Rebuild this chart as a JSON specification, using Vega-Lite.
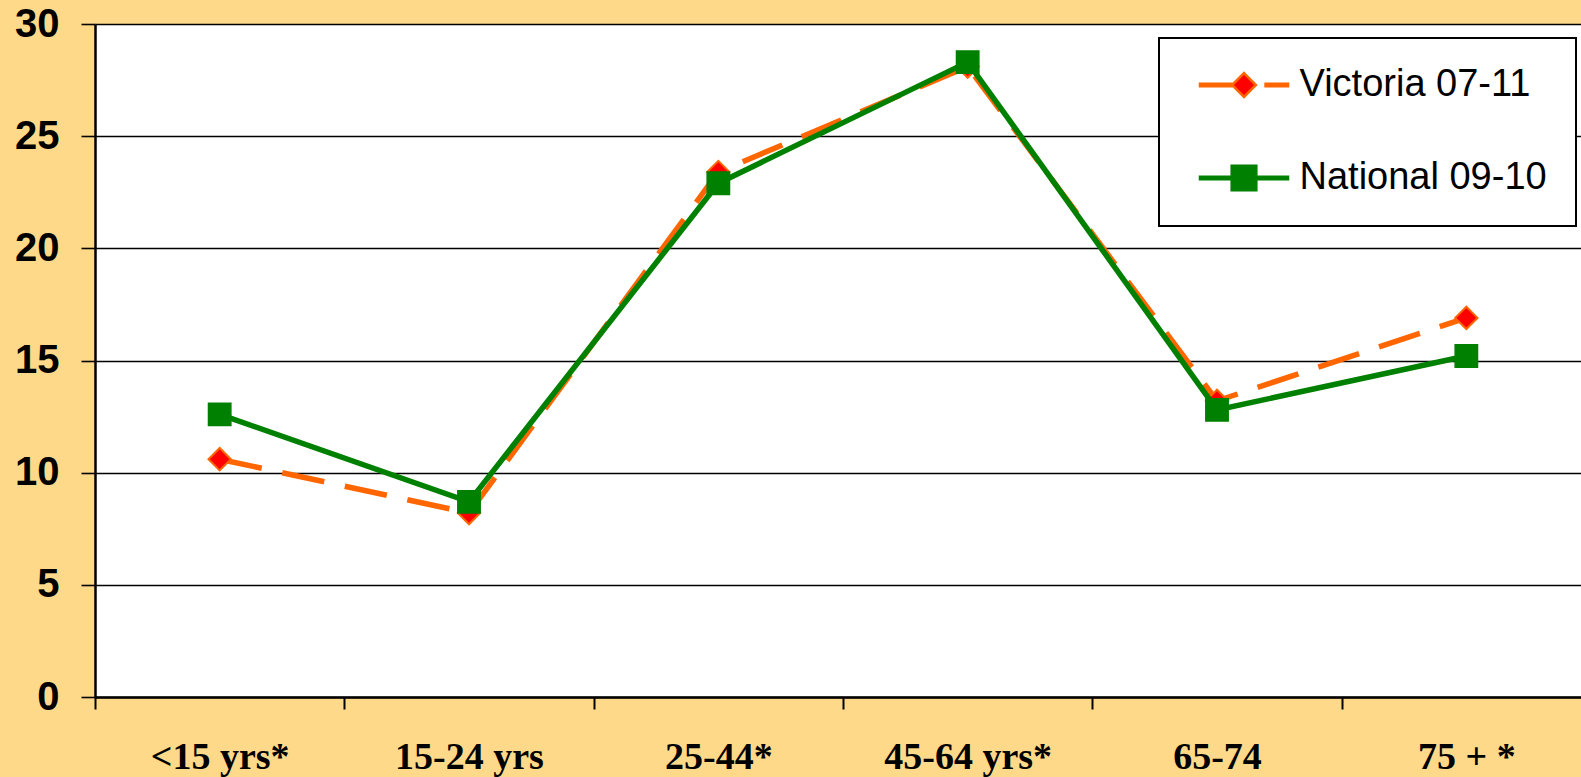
{
  "$schema": "https://vega.github.io/schema/vega-lite/v6.json",
  "width": 1496,
  "height": 673,
  "autosize": {"type": "none"},
  "padding": {"left": 95, "top": 24, "right": 0, "bottom": 80},
  "background": "#FFD98A",
  "view": {"fill": "white", "stroke": null},
  "data": {
    "values": [
      {"age": "<15 yrs*", "series": "Victoria 07-11", "value": 10.6},
      {"age": "15-24 yrs", "series": "Victoria 07-11", "value": 8.2},
      {"age": "25-44*", "series": "Victoria 07-11", "value": 23.4},
      {"age": "45-64 yrs*", "series": "Victoria 07-11", "value": 28.1},
      {"age": "65-74", "series": "Victoria 07-11", "value": 13.2},
      {"age": "75 + *", "series": "Victoria 07-11", "value": 16.9},
      {"age": "<15 yrs*", "series": "National 09-10", "value": 12.6},
      {"age": "15-24 yrs", "series": "National 09-10", "value": 8.7},
      {"age": "25-44*", "series": "National 09-10", "value": 22.9},
      {"age": "45-64 yrs*", "series": "National 09-10", "value": 28.3},
      {"age": "65-74", "series": "National 09-10", "value": 12.8},
      {"age": "75 + *", "series": "National 09-10", "value": 15.2}
    ]
  },
  "encoding": {
    "x": {
      "field": "age",
      "type": "nominal",
      "sort": null,
      "scale": {"type": "band", "paddingInner": 0, "paddingOuter": 0},
      "axis": {
        "title": null,
        "labelAngle": 0,
        "tickBand": "extent",
        "tickSize": 12,
        "tickWidth": 2,
        "tickColor": "black",
        "domainColor": "black",
        "domainWidth": 2.5,
        "grid": false,
        "labelFont": "Liberation Serif",
        "labelFontWeight": "bold",
        "labelFontSize": 38,
        "labelColor": "black",
        "labelBaseline": "alphabetic",
        "labelPadding": 59
      }
    },
    "y": {
      "field": "value",
      "type": "quantitative",
      "scale": {"domain": [0, 30], "nice": false},
      "axis": {
        "title": null,
        "values": [0, 5, 10, 15, 20, 25, 30],
        "grid": true,
        "gridColor": "black",
        "gridWidth": 1.6,
        "gridOpacity": 1,
        "tickSize": 14,
        "tickWidth": 1.6,
        "tickColor": "black",
        "domainColor": "black",
        "domainWidth": 2.5,
        "labelFont": "Liberation Sans",
        "labelFontWeight": "bold",
        "labelFontSize": 40,
        "labelColor": "black",
        "labelPadding": 22
      }
    }
  },
  "layer": [
    {
      "mark": {"type": "point", "opacity": 0, "filled": true},
      "encoding": {
        "shape": {
          "field": "series",
          "type": "nominal",
          "scale": {
            "domain": ["Victoria 07-11", "National 09-10"],
            "range": [
              "M-1,-0.03L-0.27,-0.03L-0.27,0.03L-1,0.03Z M0,-0.27L0.27,0L0,0.27L-0.27,0Z M0.49,-0.03L1,-0.03L1,0.03L0.49,0.03Z",
              "M-1,-0.03L1,-0.03L1,0.03L-1,0.03Z M-0.28,-0.28L0.28,-0.28L0.28,0.28L-0.28,0.28Z"
            ]
          },
          "legend": {
            "title": null,
            "orient": "none",
            "legendX": 1064,
            "legendY": 14,
            "strokeColor": "black",
            "fillColor": "white",
            "padding": 28.5,
            "symbolSize": 7744,
            "symbolOffset": 11,
            "labelOffset": 10,
            "clipHeight": 37,
            "rowPadding": 54,
            "labelFont": "Liberation Sans",
            "labelFontSize": 38,
            "labelColor": "black",
            "labelLimit": 400,
            "symbolOpacity": 1,
            "encoding": {
              "legend": {"strokeWidth": {"value": 2}},
              "symbols": {
                "fill": {"value": {"expr": "datum.value === 'Victoria 07-11' ? '#FF0000' : '#008000'"}},
                "stroke": {"value": {"expr": "datum.value === 'Victoria 07-11' ? '#FF6600' : '#008000'"}},
                "strokeWidth": {"value": 2.5},
                "opacity": {"value": 1},
                "fillOpacity": {"value": 1},
                "strokeOpacity": {"value": 1}
              }
            }
          }
        }
      }
    },
    {
      "transform": [{"filter": "datum.series === 'Victoria 07-11'"}],
      "mark": {"type": "line", "stroke": "#FF6600", "strokeWidth": 5.5, "strokeDash": [43, 21]}
    },
    {
      "transform": [{"filter": "datum.series === 'Victoria 07-11'"}],
      "mark": {"type": "point", "shape": "diamond", "filled": true, "fill": "#FF0000", "stroke": "#FF6600", "strokeWidth": 2, "size": 500, "opacity": 1}
    },
    {
      "transform": [{"filter": "datum.series === 'National 09-10'"}],
      "mark": {"type": "line", "stroke": "#008000", "strokeWidth": 5.5}
    },
    {
      "transform": [{"filter": "datum.series === 'National 09-10'"}],
      "mark": {"type": "point", "shape": "square", "filled": true, "fill": "#008000", "stroke": "#008000", "strokeWidth": 1.5, "size": 500, "opacity": 1}
    }
  ]
}
